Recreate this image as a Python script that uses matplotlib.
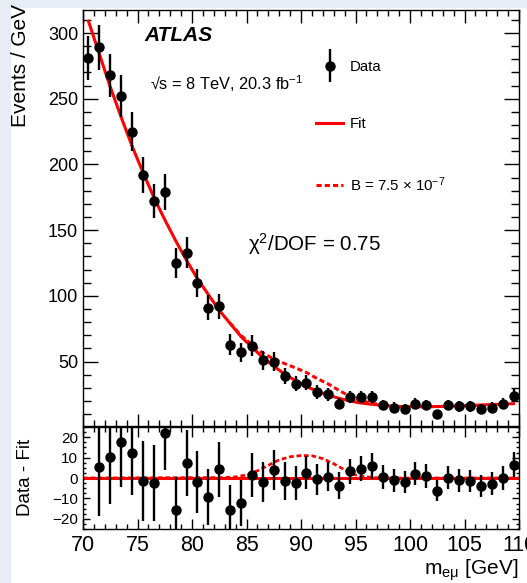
import numpy as np
import matplotlib.pyplot as plt
from matplotlib.ticker import MultipleLocator, FixedLocator
from matplotlib.patches import Rectangle
from matplotlib.legend_handler import HandlerErrorbar
from matplotlib.container import ErrorbarContainer

plt.rcParams['font.family'] = ['Liberation Sans', 'DejaVu Sans']
plt.rcParams['mathtext.default'] = 'regular'

# bin centres (1 GeV bins, 70-110 GeV)
mass = np.arange(40) + 70.5

events = [281, 289, 268, 252, 225, 192, 172, 179, 125, 133,
          110, 91, 92, 63, 57, 62, 51, 50, 39, 33,
          34, 27, 25, 18, 23, 23, 23, 17, 15, 14,
          18, 17, 10, 17, 16, 16, 14, 15, 18, 24]
events_err = [16.8, 17.0, 16.4, 15.9, 15.0, 13.9, 13.1, 13.4, 11.2, 11.5,
              10.5, 9.5, 9.6, 7.9, 7.5, 7.9, 7.1, 7.1, 6.2, 5.7,
              5.8, 5.2, 5.0, 4.2, 4.8, 4.8, 4.8, 4.1, 3.9, 3.7,
              4.2, 4.1, 3.2, 4.1, 4.0, 4.0, 3.7, 3.9, 4.2, 4.9]

fit = [309, 284, 259, 236, 214, 194, 175, 158, 142, 127,
       113, 101, 89, 79, 69, 61, 53, 46.5, 40.5, 35.5,
       31, 27.5, 24.5, 22, 20, 18.5, 17.5, 16.7, 16.1, 15.7,
       15.6, 15.6, 15.8, 16.0, 16.3, 16.6, 17.0, 17.3, 17.6, 18.0]

# fit with signal B = 7.5e-7 (where it departs from the plain fit)
sig_mass = [83.5, 84.5, 85.5, 86.5, 87.5, 88.5, 89.5, 90.5, 91.5, 92.5, 93.5, 94.5, 95.5, 96.5, 97.5]
sig_fit = [79.3, 69.8, 63.0, 56.5, 52.0, 48.5, 45.2, 41.7, 37.0, 33.0, 28.0, 23.5, 20.3, 18.3, 16.9]

residual = [-28, 5.4, 10.4, 17.5, 12.4, -1.5, -2.4, 22.3, -15.6, 7.4,
            -2.0, -9.3, 4.2, -15.6, -12.1, 1.5, -2.0, 3.8, -1.6, -2.4,
            2.6, -0.6, 0.5, -3.8, 3.2, 4.5, 5.8, 0.5, -1.1, -1.8,
            2.1, 1.0, -6.3, 0.2, -1.1, -1.6, -3.9, -2.8, 0.1, 6.6]
residual_err = [24, 23.8, 23.2, 21.7, 20.9, 19.5, 18.5, 18.6, 16.0, 16.2,
                15.0, 13.8, 13.4, 12.1, 11.2, 11.0, 10.0, 9.7, 9.2, 8.5,
                8.0, 7.5, 7.1, 6.5, 6.2, 6.2, 6.3, 5.9, 5.7, 5.4,
                5.6, 5.9, 5.2, 5.6, 5.6, 5.5, 5.5, 5.6, 5.9, 6.1]

bump_mass = [70, 83, 84, 85, 86, 87, 88, 89, 90, 91, 92, 93, 94, 95, 96, 97, 98, 110]
bump = [0, 0.2, 0.5, 1.5, 3.5, 6.2, 8.9, 10.4, 11.0, 10.9, 9.5, 7.0, 4.0, 1.5, 0.5, 0.1, 0, 0]

W, H = 527, 583
fig = plt.figure(figsize=(W / 100, H / 100), dpi=100)
fig.patch.set_facecolor('#e8edf5')
fig.add_artist(Rectangle((11 / W, 0), 1, 1 - 8 / H, transform=fig.transFigure,
                         facecolor='white', edgecolor='none', zorder=-10))

ax1 = fig.add_axes([83 / W, 1 - 426 / H, 436 / W, 416 / H])
ax2 = fig.add_axes([83 / W, 1 - 529 / H, 436 / W, 102 / H])

red = '#ff0000'

# ---- upper panel
ax1.plot(mass, fit, color=red, lw=2.2, zorder=2)
ax1.plot(sig_mass, sig_fit, color=red, lw=2.2, dashes=(1.7, 1.0), zorder=2)
eb = ax1.errorbar(mass, events, yerr=events_err, fmt='o', color='black',
                  ms=6.5, elinewidth=1.7, capsize=0, zorder=3)
ax1.set_xlim(70, 110)
ax1.set_ylim(1, 317.5)
ax1.xaxis.set_major_locator(MultipleLocator(5))
ax1.xaxis.set_minor_locator(MultipleLocator(1))
ax1.yaxis.set_major_locator(FixedLocator([50, 100, 150, 200, 250, 300]))
ax1.yaxis.set_minor_locator(MultipleLocator(10))
ax1.tick_params(which='both', direction='in', top=True, right=True, width=1)
ax1.tick_params(axis='x', which='major', length=9, labelbottom=False)
ax1.tick_params(axis='x', which='minor', length=4.5)
ax1.tick_params(axis='y', which='major', length=11, labelsize=13, pad=3.5)
ax1.tick_params(axis='y', which='minor', length=5.5)

ax1.text(0.142, 0.925, 'ATLAS', transform=ax1.transAxes, fontsize=15,
         fontweight='bold', fontstyle='italic', va='baseline')
ax1.text(0.154, 0.808, '√s = 8 TeV, 20.3 fb$^{-1}$', transform=ax1.transAxes,
         fontsize=11.8, va='baseline')
ax1.text(0.378, 0.421, 'χ$^{2}$/DOF = 0.75', transform=ax1.transAxes,
         fontsize=14.8, va='baseline')

sig_handle, = ax1.plot([], [], color=red, lw=2.2, dashes=(1.7, 1.0))
fit_handle, = ax1.plot([], [], color=red, lw=2.2)
ax1.legend([eb, fit_handle, sig_handle],
           ['Data', 'Fit', 'B = 7.5 × 10$^{-7}$'],
           loc='upper left', bbox_to_anchor=((316 - 83) / 436, (426 - 60) / 416),
           frameon=False, fontsize=10.8, borderpad=0, borderaxespad=0,
           handlelength=1.8, handletextpad=0.45, labelspacing=2.9,
           handler_map={ErrorbarContainer: HandlerErrorbar(yerr_size=1.1)})

# ---- lower panel
res = np.array(residual)
res_err = np.array(residual_err)
keep = np.abs(res) <= 25
ax2.axhline(0, color=red, lw=2.2, zorder=2)
ax2.plot(bump_mass, bump, color=red, lw=2.0, dashes=(1.7, 1.0), zorder=2)
ax2.errorbar(mass[keep], res[keep], yerr=res_err[keep], fmt='o', color='black',
             ms=6.5, elinewidth=1.7, capsize=0, zorder=3)
ax2.set_xlim(70, 110)
ax2.set_ylim(-25, 25)
ax2.xaxis.set_major_locator(MultipleLocator(5))
ax2.xaxis.set_minor_locator(MultipleLocator(1))
ax2.yaxis.set_major_locator(MultipleLocator(10))
ax2.yaxis.set_minor_locator(MultipleLocator(2.5))
ax2.tick_params(which='both', direction='in', top=True, right=True, width=1)
ax2.tick_params(axis='x', which='major', length=7, labelsize=15.5, pad=4)
ax2.tick_params(axis='x', which='minor', length=3.5)
ax2.tick_params(axis='y', which='major', length=5, labelsize=11, pad=3.5)
ax2.tick_params(axis='y', which='minor', length=2.5)

for ax in (ax1, ax2):
    for s in ax.spines.values():
        s.set_linewidth(1.0)

fig.text(21 / W, 1 - 4 / H, 'Events / GeV', rotation=90, fontsize=15,
         ha='center', va='top')
fig.text(26 / W, 1 - 477 / H, 'Data - Fit', rotation=90, fontsize=13.5,
         ha='center', va='center')
fig.text(518 / W, 1 - 570 / H, 'm$_{eμ}$ [GeV]', fontsize=15,
         ha='right', va='center')

fig.savefig('out.png', dpi=100, facecolor=fig.get_facecolor())
